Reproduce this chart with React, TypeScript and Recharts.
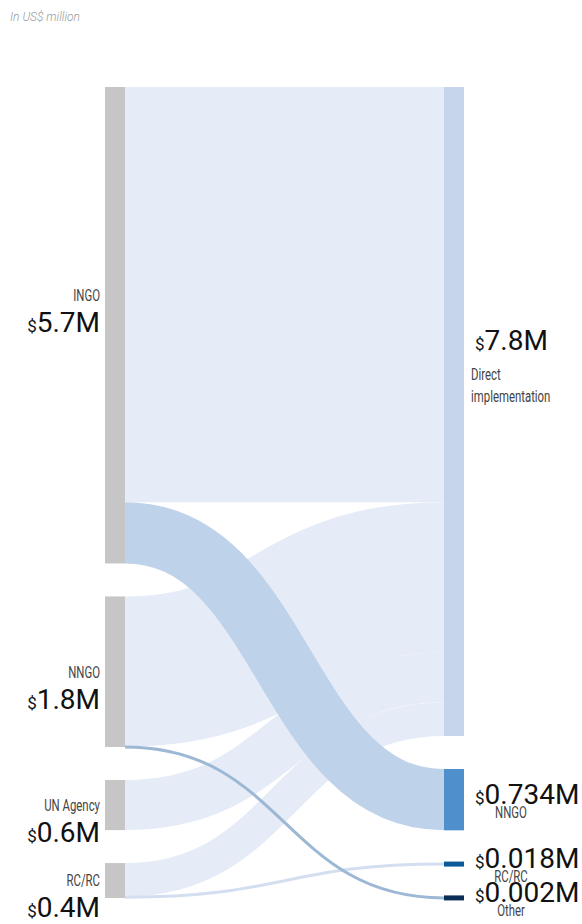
import React from 'react';
import { Sankey } from 'recharts';

// funding flows, US$ million
const nodeNames = ['INGO', 'NNGO', 'UN Agency', 'RC/RC', 'Direct implementation', 'NNGO', 'RC/RC', 'Other'];
const valueLabels = ['5.7M', '1.8M', '0.6M', '0.4M', '7.8M', '0.734M', '0.018M', '0.002M'];

const linkSources = [0, 1, 2, 3, 3, 0, 1];
const linkTargets = [4, 4, 4, 4, 6, 5, 7];
const linkValues = [4.97, 1.8, 0.6, 0.4, 0.018, 0.734, 0.002];

const NODE_COLORS: Record<number, string> = {
  4: '#c7d5ec',
  5: '#4f8fcc',
  6: '#0b5a99',
  7: '#0a2d55',
};
const LINK_COLORS: Record<number, string> = {
  4: '#e6ecf7',
  5: '#bed2ea',
  6: '#d3dff0',
  7: '#9cb8d4',
};

const DIRECT = 4;
const NAME_SCALE = 0.67;

const data = {
  nodes: nodeNames.map((name) => ({ name })),
  links: linkSources.map((s, i) => ({ source: s, target: linkTargets[i], value: linkValues[i] })),
};

function shareToDirect(index: number): number {
  let total = 0;
  let direct = 0;
  linkSources.forEach((s, i) => {
    if (s !== index) return;
    total += linkValues[i];
    if (linkTargets[i] === DIRECT) direct += linkValues[i];
  });
  return total ? direct / total : 1;
}

function Name({ x, y, anchor, children }: { x: number; y: number; anchor: 'start' | 'end' | 'middle'; children: React.ReactNode }) {
  return (
    <text
      transform={`translate(${x},${y}) scale(${NAME_SCALE},1)`}
      textAnchor={anchor}
      fontSize={17}
      fill="#444"
      fontFamily="Roboto, sans-serif"
    >
      {children}
    </text>
  );
}

function Amount({ x, y, anchor, label }: { x: number; y: number; anchor: 'start' | 'end'; label: string }) {
  return (
    <text x={x} y={y} textAnchor={anchor} fontFamily="Roboto, sans-serif" fill="#111">
      <tspan fontSize={17}>$</tspan>
      <tspan fontSize={28}>{label}</tspan>
    </text>
  );
}

function FlowNode(props: any) {
  const { x, y, width, height, index } = props;
  const h = Math.max(height, 5);
  const top = y + height / 2 - h / 2;
  const isLeft = index < 4;
  const fill = isLeft ? '#c6c6c6' : NODE_COLORS[index];
  const cy = y + height / 2;

  let labels: React.ReactNode = null;
  if (isLeft) {
    const nameY = y + (height * shareToDirect(index)) / 2 + 6;
    labels = (
      <>
        <Name x={x - 5} y={nameY} anchor="end">{nodeNames[index]}</Name>
        <Amount x={x - 5} y={nameY + 31} anchor="end" label={valueLabels[index]} />
      </>
    );
  } else if (index === DIRECT) {
    labels = (
      <>
        <Amount x={x + width + 11} y={cy - 62} anchor="start" label={valueLabels[index]} />
        <Name x={x + width + 7} y={cy - 32} anchor="start">Direct</Name>
        <Name x={x + width + 7} y={cy - 10} anchor="start">implementation</Name>
      </>
    );
  } else {
    labels = (
      <>
        <Amount x={x + width + 11} y={cy + 4} anchor="start" label={valueLabels[index]} />
        <Name x={x + width + 47} y={cy + 18} anchor="middle">{nodeNames[index]}</Name>
      </>
    );
  }

  return (
    <g>
      <rect x={x} y={top} width={width} height={h} fill={fill} />
      {labels}
    </g>
  );
}

function FlowLink(props: any) {
  const { sourceX, targetX, sourceY, targetY, sourceControlX, targetControlX, linkWidth, index } = props;
  const color = LINK_COLORS[linkTargets[index]];
  return (
    <path
      d={`M${sourceX},${sourceY} C${sourceControlX},${sourceY} ${targetControlX},${targetY} ${targetX},${targetY}`}
      fill="none"
      stroke={color}
      strokeWidth={Math.max(linkWidth, 3)}
    />
  );
}

export default function App() {
  return (
    <div style={{ position: 'absolute', left: 0, top: 0, width: 582, height: 924, background: '#fff', overflow: 'hidden' }}>
      <div
        style={{
          position: 'absolute',
          left: 10,
          top: 10,
          fontFamily: 'Roboto, sans-serif',
          fontStyle: 'italic',
          fontWeight: 300,
          fontSize: 12,
          color: '#999',
        }}
      >
        In US$ million
      </div>
      <Sankey
        width={582}
        height={924}
        data={data}
        nodeWidth={20}
        nodePadding={33}
        iterations={0}
        sort={false}
        margin={{ top: 87, left: 105, right: 118, bottom: 26 }}
        node={FlowNode}
        link={FlowLink}
      />
    </div>
  );
}
